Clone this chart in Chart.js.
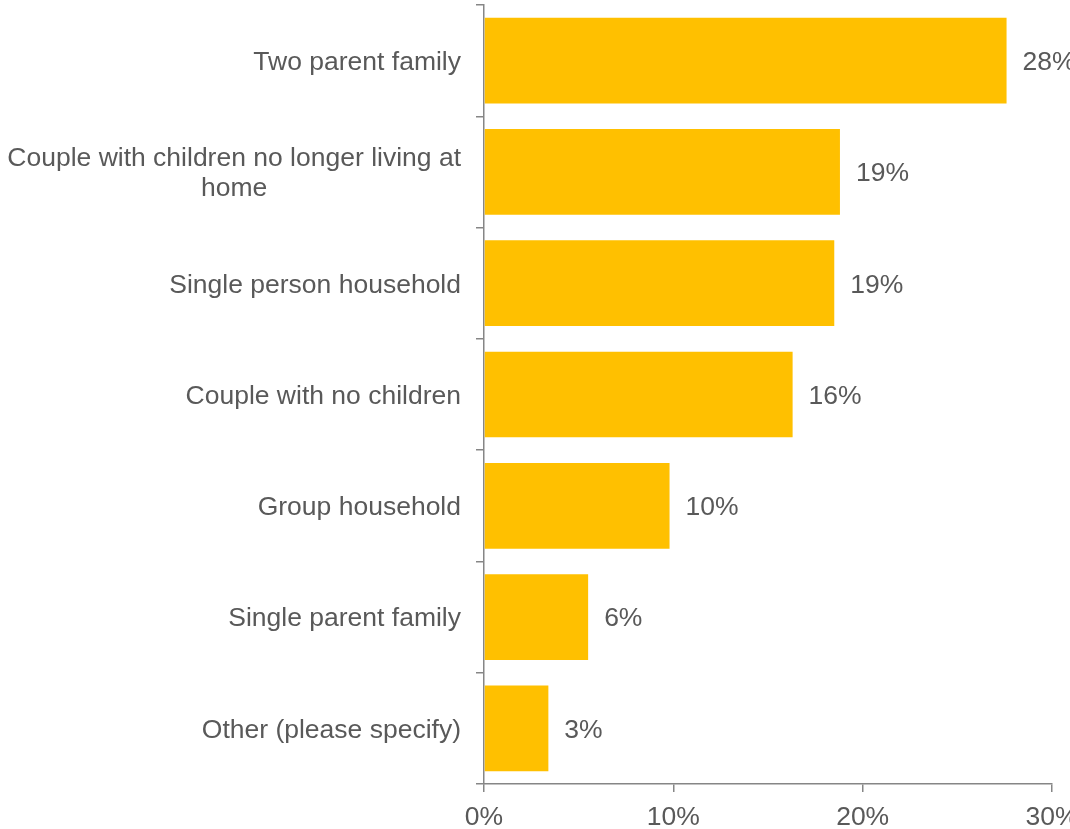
<!DOCTYPE html>
<html>
<head>
<meta charset="utf-8">
<script src="https://cdn.jsdelivr.net/npm/chart.js@4/dist/chart.umd.min.js"></script>
<style>
  html, body { margin: 0; padding: 0; background: #fff; overflow: hidden; }
</style>
</head>
<body>
<canvas id="chart" width="1100" height="829"></canvas>
<script>
// household types, top to bottom
const categories = [
    'Two parent family',
    ['Couple with children no longer living at', 'home'],
    'Single person household',
    'Couple with no children',
    'Group household',
    'Single parent family',
    'Other (please specify)'
];
const shares = [27.6, 18.8, 18.5, 16.3, 9.8, 5.5, 3.4];
const xTicks = [0, 10, 20, 30];

const barColor = '#FFC000';
const textColor = '#595959';
const axisColor = '#868686';
const fontFamily = '"Liberation Sans", Arial, sans-serif';
const font = '26.5px ' + fontFamily;

// category names on the left and the % next to each bar
const labelPlugin = {
    id: 'labels',
    afterDatasetsDraw(chart) {
        const ctx = chart.ctx;
        const y = chart.scales.y;
        ctx.save();
        ctx.font = font;
        ctx.fillStyle = textColor;
        ctx.textBaseline = 'middle';

        categories.forEach((cat, i) => {
            const lines = Array.isArray(cat) ? cat : [cat];
            const cy = y.getPixelForValue(i) + 2;
            const right = y.right - 23;
            const widest = Math.max(...lines.map(l => ctx.measureText(l).width));
            const lh = 30;
            lines.forEach((line, j) => {
                const ly = cy + (j - (lines.length - 1) / 2) * lh;
                if (lines.length > 1) {
                    ctx.textAlign = 'center';
                    ctx.fillText(line, right - widest / 2, ly);
                } else {
                    ctx.textAlign = 'right';
                    ctx.fillText(line, right, ly);
                }
            });
        });

        ctx.textAlign = 'left';
        chart.getDatasetMeta(0).data.forEach((bar, i) => {
            ctx.fillText(Math.round(shares[i]) + '%', bar.x + 16, bar.y + 2);
        });
        ctx.restore();
    }
};

new Chart(document.getElementById('chart'), {
    type: 'bar',
    data: {
        labels: categories,
        datasets: [{
            data: shares,
            backgroundColor: barColor,
            borderWidth: 0,
            categoryPercentage: 1,
            barPercentage: 0.77
        }]
    },
    options: {
        indexAxis: 'y',
        responsive: false,
        animation: false,
        layout: { padding: { top: 5, right: 48, left: 0, bottom: 0 } },
        plugins: {
            legend: { display: false },
            tooltip: { enabled: false }
        },
        scales: {
            x: {
                min: 0,
                max: 30,
                afterBuildTicks: s => { s.ticks = xTicks.map(v => ({ value: v })); },
                afterFit: s => { s.height = 45; },
                border: { color: axisColor, width: 1.5 },
                grid: { drawOnChartArea: false, tickLength: 8, color: axisColor, lineWidth: 1.5 },
                ticks: {
                    padding: 10,
                    color: textColor,
                    font: { family: fontFamily, size: 26.5 },
                    callback: v => v + '%'
                }
            },
            y: {
                afterFit: s => { s.width = 484; },
                border: { color: axisColor, width: 1.5 },
                grid: { drawOnChartArea: false, tickLength: 8, color: axisColor, lineWidth: 1.5, offset: true },
                ticks: { display: false }
            }
        }
    },
    plugins: [labelPlugin]
});
</script>
</body>
</html>
